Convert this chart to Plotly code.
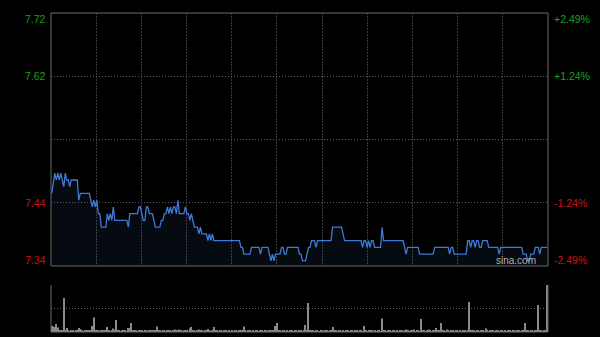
import plotly.graph_objects as go

# ---------------- data ----------------
prev_close = 7.53
price_lo = 7.3425
price_hi = 7.7175
price_grid = [7.43625, 7.53, 7.62375]
left_labels = ["7.72", "7.62", "7.44", "7.34"]
right_labels = ["+2.49%", "+1.24%", "-1.24%", "-2.49%"]
label_levels = [7.7175, 7.62375, 7.43625, 7.3425]
label_colors = ["#1aa31a", "#1aa31a", "#d01212", "#d01212"]
label_shift = [-6, 0, 0, 6]
time_grid = [30, 60, 90, 120, 150, 180, 210, 240, 270, 300]

prices = [
    7.45, 7.47, 7.48, 7.47, 7.48, 7.47, 7.48, 7.47, 7.46, 7.48, 7.47, 7.47, 7.46, 7.47, 7.47, 7.47, 7.47, 7.47, 7.44, 7.45,
    7.45, 7.45, 7.45, 7.45, 7.45, 7.45, 7.44, 7.43, 7.44, 7.43, 7.44, 7.42, 7.42, 7.40, 7.40, 7.40, 7.40, 7.42, 7.41, 7.42,
    7.41, 7.43, 7.41, 7.41, 7.41, 7.41, 7.41, 7.41, 7.41, 7.41, 7.41, 7.40, 7.42, 7.42, 7.42, 7.42, 7.42, 7.42, 7.43, 7.43,
    7.42, 7.41, 7.41, 7.43, 7.43, 7.42, 7.42, 7.42, 7.41, 7.40, 7.40, 7.40, 7.40, 7.41, 7.41, 7.42, 7.42, 7.43, 7.42, 7.43,
    7.42, 7.43, 7.43, 7.42, 7.44, 7.42, 7.42, 7.42, 7.42, 7.43, 7.42, 7.42, 7.41, 7.42, 7.41, 7.40, 7.40, 7.40, 7.39, 7.40,
    7.39, 7.39, 7.39, 7.39, 7.38, 7.39, 7.38, 7.39, 7.38, 7.38, 7.38, 7.38, 7.38, 7.38, 7.38, 7.38, 7.38, 7.38, 7.38, 7.38,
    7.38, 7.38, 7.38, 7.38, 7.38, 7.38, 7.37, 7.37, 7.36, 7.36, 7.36, 7.36, 7.36, 7.37, 7.37, 7.37, 7.37, 7.37, 7.37, 7.36,
    7.37, 7.37, 7.37, 7.37, 7.37, 7.36, 7.35, 7.36, 7.35, 7.36, 7.36, 7.36, 7.36, 7.37, 7.37, 7.36, 7.36, 7.37, 7.37, 7.37,
    7.37, 7.37, 7.37, 7.37, 7.37, 7.36, 7.36, 7.35, 7.35, 7.35, 7.36, 7.37, 7.37, 7.38, 7.38, 7.38, 7.37, 7.38, 7.38, 7.38,
    7.38, 7.38, 7.38, 7.38, 7.38, 7.38, 7.38, 7.40, 7.40, 7.40, 7.40, 7.40, 7.40, 7.40, 7.39, 7.38, 7.38, 7.38, 7.38, 7.38,
    7.38, 7.38, 7.38, 7.38, 7.38, 7.38, 7.38, 7.37, 7.38, 7.38, 7.37, 7.38, 7.37, 7.38, 7.38, 7.37, 7.37, 7.37, 7.37, 7.37,
    7.40, 7.38, 7.38, 7.38, 7.38, 7.38, 7.38, 7.38, 7.38, 7.38, 7.38, 7.38, 7.38, 7.38, 7.38, 7.37, 7.36, 7.37, 7.37, 7.37,
    7.37, 7.37, 7.37, 7.37, 7.37, 7.36, 7.36, 7.36, 7.36, 7.36, 7.36, 7.36, 7.36, 7.36, 7.36, 7.37, 7.37, 7.37, 7.37, 7.37,
    7.37, 7.37, 7.37, 7.37, 7.37, 7.36, 7.37, 7.37, 7.36, 7.36, 7.36, 7.36, 7.36, 7.36, 7.36, 7.36, 7.36, 7.38, 7.38, 7.37,
    7.38, 7.38, 7.37, 7.38, 7.38, 7.37, 7.37, 7.38, 7.38, 7.38, 7.38, 7.37, 7.37, 7.37, 7.37, 7.37, 7.37, 7.37, 7.36, 7.37,
    7.37, 7.37, 7.37, 7.37, 7.37, 7.37, 7.37, 7.37, 7.37, 7.37, 7.37, 7.37, 7.37, 7.37, 7.36, 7.36, 7.36, 7.35, 7.35, 7.36,
    7.36, 7.36, 7.37, 7.37, 7.37, 7.36, 7.37, 7.37, 7.37, 7.37, 7.37,
]

volumes = [
    60, 55, 50, 80, 45, 20, 15, 10, 340, 12, 40, 10, 8, 12, 10, 8, 10, 12, 40, 30,
    10, 8, 12, 10, 15, 10, 12, 60, 145, 20, 10, 12, 8, 10, 15, 10, 12, 50, 10, 8,
    12, 35, 10, 120, 20, 10, 8, 10, 12, 10, 8, 40, 40, 90, 20, 10, 12, 8, 10, 12,
    10, 8, 12, 10, 8, 15, 10, 12, 10, 20, 55, 15, 10, 8, 12, 10, 8, 10, 20, 10,
    8, 10, 25, 10, 12, 25, 10, 8, 10, 12, 10, 8, 35, 50, 10, 12, 8, 10, 25, 10,
    20, 8, 10, 12, 30, 10, 8, 10, 50, 15, 10, 8, 12, 10, 8, 10, 12, 8, 10, 8,
    10, 8, 12, 10, 8, 10, 12, 10, 55, 10, 8, 10, 12, 8, 10, 8, 10, 12, 8, 10,
    20, 8, 10, 12, 8, 10, 20, 10, 12, 60, 90, 15, 10, 8, 10, 12, 8, 10, 8, 12,
    10, 8, 10, 12, 8, 10, 12, 8, 10, 70, 15, 290, 20, 20, 10, 8, 12, 10, 8, 10,
    20, 8, 10, 12, 8, 20, 10, 50, 12, 10, 8, 10, 12, 8, 10, 8, 20, 10, 8, 12,
    10, 8, 12, 10, 8, 10, 12, 8, 60, 10, 8, 20, 10, 12, 8, 10, 8, 12, 10, 8,
    135, 15, 10, 8, 12, 10, 8, 10, 12, 8, 10, 8, 12, 10, 8, 10, 25, 10, 8, 12,
    10, 25, 8, 12, 10, 8, 130, 15, 10, 8, 12, 25, 10, 8, 10, 12, 40, 10, 12, 90,
    15, 10, 8, 25, 10, 8, 12, 10, 8, 10, 12, 8, 10, 8, 12, 10, 8, 10, 300, 15,
    20, 10, 8, 12, 10, 8, 10, 12, 8, 35, 10, 8, 12, 10, 15, 8, 10, 15, 8, 10,
    12, 8, 10, 8, 12, 10, 8, 20, 10, 8, 12, 10, 8, 10, 12, 90, 15, 10, 8, 12,
    10, 8, 12, 10, 270, 20, 10, 8, 12, 10, 470,
]
vol_max = 470
minutes = list(range(len(prices)))

# ---------------- figure ----------------
fig = go.Figure()
fig.add_trace(go.Scatter(
    x=minutes, y=prices, mode="lines",
    line=dict(color="#3f7ad6", width=1.3),
    fill="tozeroy", fillcolor="rgba(60,100,170,0.10)",
    xaxis="x", yaxis="y", hoverinfo="skip",
))
fig.add_trace(go.Bar(
    x=minutes, y=volumes, width=0.7,
    marker=dict(color="#8a8a8a", line=dict(width=0)),
    xaxis="x2", yaxis="y2", hoverinfo="skip",
))

font = "Liberation Sans, Arial, sans-serif"
fig.update_layout(
    width=600, height=337,
    margin=dict(l=51, r=52, t=13, b=5),
    paper_bgcolor="#000000", plot_bgcolor="#000000",
    showlegend=False,
    font=dict(family=font, size=11, color="#cccccc"),
    xaxis=dict(domain=[0, 1], range=[-0.5, 330.5], tickvals=time_grid,
               showticklabels=False, ticks="", showgrid=True,
               gridcolor="#3c3c3c", griddash="2px,1px", gridwidth=1,
               zeroline=False, showline=False, anchor="y"),
    yaxis=dict(domain=[0.2069, 1], range=[price_lo, price_hi], tickvals=price_grid,
               showticklabels=False, ticks="", showgrid=True,
               gridcolor="#5c5c5c", griddash="1px,2px", gridwidth=1,
               zeroline=False, showline=False, anchor="x"),
    xaxis2=dict(domain=[0, 1], range=[-0.5, 330.5], showticklabels=False,
                ticks="", showgrid=False, zeroline=False, anchor="y2"),
    yaxis2=dict(domain=[0, 0.1473], range=[0, vol_max], tickvals=[vol_max / 2, vol_max],
                showticklabels=False, ticks="", showgrid=True,
                gridcolor="#666666", griddash="1px,2px", gridwidth=1,
                zeroline=False, anchor="x2"),
)

# borders
border = "#6a6a6a"
fig.add_shape(type="rect", xref="x domain", yref="y domain", x0=0, x1=1, y0=0, y1=1,
              line=dict(color=border, width=1), layer="above")
for (x0, x1, y0, y1) in [(0, 0, 0, 1), (1, 1, 0, 1), (0, 1, 0, 0)]:
    fig.add_shape(type="line", xref="x2 domain", yref="y2 domain",
                  x0=x0, x1=x1, y0=y0, y1=y1, line=dict(color=border, width=1), layer="above")

# axis labels
for txt, lvl, col, sh in zip(left_labels, label_levels, label_colors, label_shift):
    fig.add_annotation(text=txt, xref="paper", x=0, xanchor="right", xshift=-3,
                       yref="y", y=lvl, yanchor="middle", yshift=sh, showarrow=False,
                       font=dict(family=font, size=10.5, color=col))
for txt, lvl, col, sh in zip(right_labels, label_levels, label_colors, label_shift):
    fig.add_annotation(text=txt, xref="paper", x=1, xanchor="left", xshift=4,
                       yref="y", y=lvl, yanchor="middle", yshift=sh, showarrow=False,
                       font=dict(family=font, size=10.5, color=col))

fig.add_annotation(text="sina.com", xref="x domain", x=1, xanchor="right", xshift=-10,
                   yref="y domain", y=0, yanchor="middle", yshift=5, showarrow=False,
                   font=dict(family=font, size=10, color="#b0b0b0"))

fig.write_html("out.html")
